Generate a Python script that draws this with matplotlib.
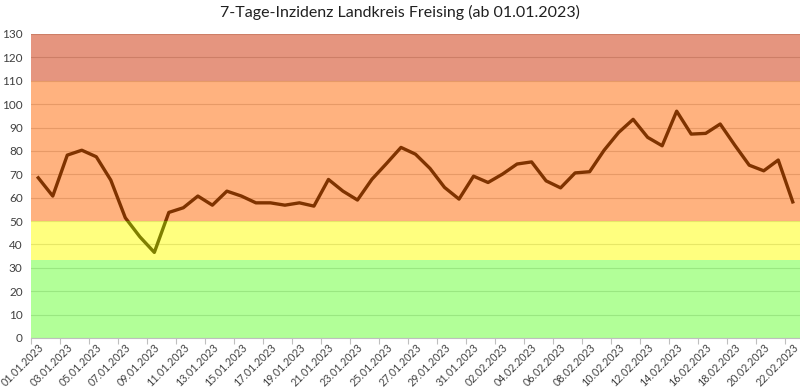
import matplotlib
matplotlib.use("Agg")
import matplotlib.pyplot as plt
import numpy as np
import datetime as dt

plt.rcParams['font.family'] = ['Lato', 'DejaVu Sans']

title = "7-Tage-Inzidenz Landkreis Freising (ab 01.01.2023)"
start = dt.date(2023, 1, 1)
values = [68.5, 60.7, 78.2, 80.3, 77.5, 67.5, 51.4, 43.3, 36.6, 53.7,
          55.7, 60.7, 56.8, 62.8, 60.7, 57.8, 57.8, 56.8, 57.8, 56.4,
          67.8, 62.8, 59.0, 67.9, 74.6, 81.5, 78.6, 72.5, 64.4, 59.4,
          69.2, 66.5, 70.1, 74.4, 75.3, 67.2, 64.2, 70.6, 71.1, 80.3,
          87.9, 93.5, 85.8, 82.2, 97.0, 87.2, 87.5, 91.5, 82.5, 73.9,
          71.5, 76.1, 58.2]
dates = [(start + dt.timedelta(days=i)).strftime("%d.%m.%Y") for i in range(len(values))]

bands = [(0, 33.5, '#66FF33'), (33.5, 50, '#FFFF00'), (50, 110, '#FF6600'), (110, 130, '#CC2D00')]
yticks = list(range(0, 131, 10))

fig = plt.figure(figsize=(8, 3.92), dpi=100)
ax = fig.add_axes([31/800, 1-338/392, 1-31/800, (338-34)/392])

x = np.arange(len(values))
ax.plot(x, values, color='black', lw=2.4, zorder=2, solid_joinstyle='round')
for lo, hi, c in bands:
    ax.axhspan(lo, hi, color=c, alpha=0.5, lw=0, zorder=3)

ax.set_xlim(-0.5, len(values) - 0.5)
ax.set_ylim(0, 130)
ax.set_yticks(yticks)
ax.yaxis.grid(True, color='#D0D0D0', lw=0.8, zorder=1)
ax.set_axisbelow(True)
ax.tick_params(axis='y', length=0, labelsize=8.5, labelcolor='#404040', pad=6)

ax.set_xticks(x[::2])
ax.set_xticklabels(dates[::2], rotation=45, ha='right', rotation_mode='anchor',
                   fontsize=7.7, color='#404040')
ax.tick_params(axis='x', which='major', length=0, pad=3)
ax.set_xticks(np.arange(-0.5, len(values), 2), minor=True)
ax.tick_params(axis='x', which='minor', length=4, color='#BFBFBF', width=0.8)

for s in ['top', 'right', 'left']:
    ax.spines[s].set_visible(False)
ax.spines['bottom'].set_color('#BFBFBF')
ax.spines['bottom'].set_zorder(4)

fig.text(0.5, 1-12/392, title, ha='center', va='center', fontsize=11.5, color='#202020')

fig.savefig("out.png", dpi=100)
